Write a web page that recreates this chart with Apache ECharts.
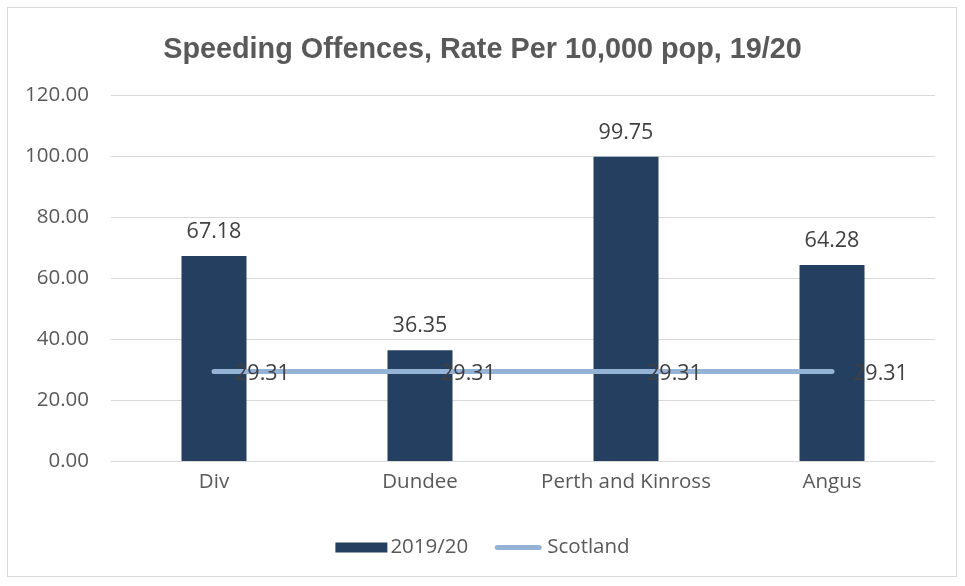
<!DOCTYPE html>
<html>
<head>
<meta charset="utf-8">
<script src="https://cdn.jsdelivr.net/npm/echarts@6/dist/echarts.min.js"></script>
<style>
  html, body { margin: 0; padding: 0; background: #fff; }
  #frame {
    position: absolute; left: 7px; top: 7px;
    width: 950px; height: 570px;
    border: 1px solid #d9d9d9; box-sizing: border-box;
  }
  #main { width: 965px; height: 586px; position: absolute; left: 0; top: 0; }
</style>
</head>
<body>
<div id="frame"></div>
<div id="main"></div>
<script>
// categories and values
var areas = ['Div', 'Dundee', 'Perth and Kinross', 'Angus'];
var rate1920 = [67.18, 36.35, 99.75, 64.28];
var scotland = [29.31, 29.31, 29.31, 29.31];
var yTicks = [0, 20, 40, 60, 80, 100, 120];

var labelFont = '"Open Sans", Lato, sans-serif';
var myChart = echarts.init(document.getElementById('main'));

function twoDp(p) { return p.value.toFixed(2); }

var option = {
  animation: false,
  title: {
    text: 'Speeding Offences, Rate Per 10,000 pop, 19/20',
    left: 'center',
    top: 31,
    textStyle: {
      fontFamily: '"Liberation Sans", Arial, sans-serif',
      fontWeight: 'bold',
      fontSize: 28.8,
      color: '#595959'
    }
  },
  legend: {
    bottom: 23,
    left: 'center',
    itemWidth: 52,
    itemHeight: 10,
    itemGap: 24,
    textStyle: { fontFamily: labelFont, fontSize: 20.5, color: '#595959', padding: [0, 0, 0, -2] },
    data: [
      { name: '2019/20', icon: 'rect' },
      // thick line with round ends, padded to sit in the middle of the box
      { name: 'Scotland', icon: 'path://M0,0 M52,10 M5,2.5 L47,2.5 A2.5,2.5 0 0 1 47,7.5 L5,7.5 A2.5,2.5 0 0 1 5,2.5 Z' }
    ]
  },
  grid: {
    left: 111,
    right: 30,
    top: 95,
    bottom: 125
  },
  xAxis: {
    type: 'category',
    data: areas,
    axisLine: { lineStyle: { color: '#d9d9d9', width: 1 } },
    axisTick: { show: false },
    axisLabel: {
      interval: 0,
      fontFamily: labelFont, fontSize: 20.5, color: '#595959', margin: 11
    }
  },
  yAxis: {
    type: 'value',
    min: yTicks[0],
    max: yTicks[yTicks.length - 1],
    interval: 20,
    axisLine: { show: false },
    axisTick: { show: false },
    splitLine: { lineStyle: { color: '#d9d9d9', width: 1 } },
    axisLabel: {
      fontFamily: labelFont, fontSize: 20.5, color: '#595959', margin: 22,
      formatter: function (v) { return v.toFixed(2); }
    }
  },
  series: [
    {
      name: '2019/20',
      type: 'bar',
      data: rate1920,
      barWidth: 65,
      z: 1,
      itemStyle: { color: '#243F60' },
      label: {
        show: true,
        position: 'top',
        distance: 13,
        fontFamily: labelFont,
        fontSize: 21.5,
        color: '#404040',
        formatter: twoDp
      }
    },
    {
      name: 'Scotland',
      type: 'line',
      data: scotland,
      symbol: 'circle',
      symbolSize: 0.1,
      showSymbol: true,
      z: 2,
      lineStyle: { color: '#95B3D7', width: 5, cap: 'round' },
      itemStyle: { color: '#95B3D7' },
      label: {
        show: true,
        position: 'right',
        distance: 21,
        offset: [0, 2],
        fontFamily: labelFont,
        fontSize: 21.5,
        color: '#404040',
        formatter: twoDp
      }
    }
  ]
};

myChart.setOption(option);
</script>
</body>
</html>
